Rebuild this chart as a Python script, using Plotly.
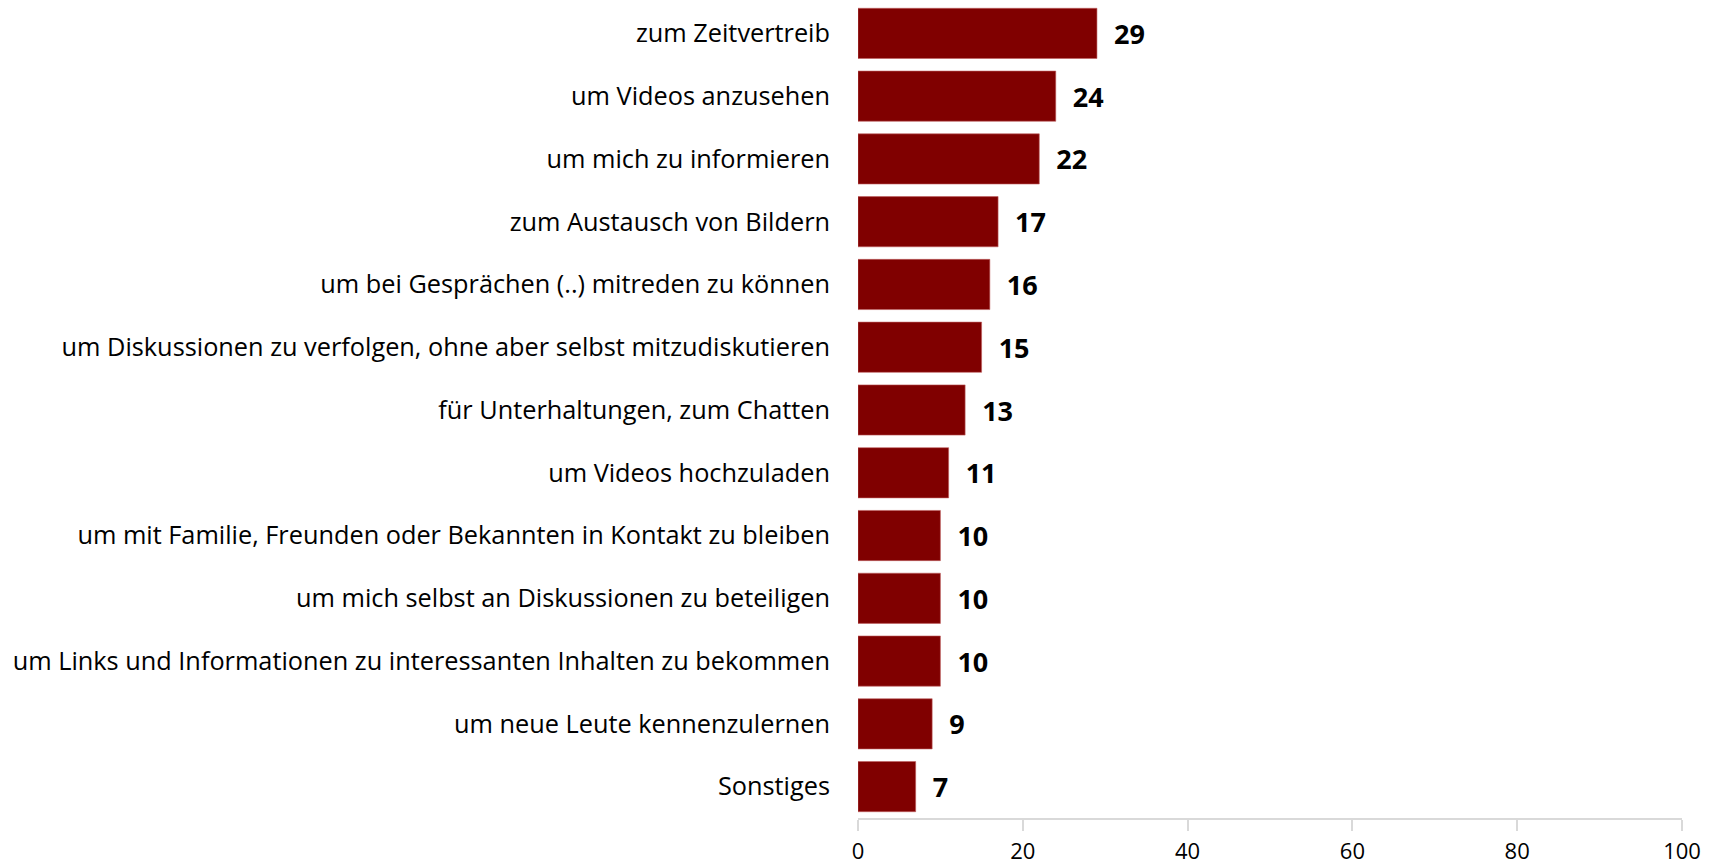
import plotly.graph_objects as go

categories = [
    "zum Zeitvertreib",
    "um Videos anzusehen",
    "um mich zu informieren",
    "zum Austausch von Bildern",
    "um bei Gesprächen (..) mitreden zu können",
    "um Diskussionen zu verfolgen, ohne aber selbst mitzudiskutieren",
    "für Unterhaltungen, zum Chatten",
    "um Videos hochzuladen",
    "um mit Familie, Freunden oder Bekannten in Kontakt zu bleiben",
    "um mich selbst an Diskussionen zu beteiligen",
    "um Links und Informationen zu interessanten Inhalten zu bekommen",
    "um neue Leute kennenzulernen",
    "Sonstiges",
]
values = [29, 24, 22, 17, 16, 15, 13, 11, 10, 10, 10, 9, 7]
x_ticks = [0, 20, 40, 60, 80, 100]

fig = go.Figure(
    go.Bar(
        y=categories,
        x=values,
        orientation="h",
        marker=dict(color="#800000", line=dict(color="#c06060", width=0.6)),
        text=[f"<b>\u00a0\u00a0{v}</b>" for v in values],
        textposition="outside",
        textfont=dict(family="Open Sans, sans-serif", size=27, color="#000000"),
        cliponaxis=False,
        hoverinfo="skip",
    )
)

fig.update_layout(
    width=1719,
    height=864,
    paper_bgcolor="white",
    plot_bgcolor="white",
    margin=dict(l=858, r=37, t=2, b=46),
    bargap=0.2,
    showlegend=False,
    font=dict(family="Open Sans, sans-serif", size=25.3, color="#000000"),
)
fig.update_yaxes(
    autorange="reversed",
    automargin=False,
    showgrid=False,
    showline=False,
    ticks="",
    ticklabelstandoff=27,
    tickfont=dict(size=25.3),
)
fig.update_xaxes(
    range=[0, 100],
    automargin=False,
    tickvals=x_ticks,
    showgrid=False,
    zeroline=False,
    showline=True,
    linecolor="#d9d9d9",
    linewidth=1.5,
    ticks="outside",
    ticklen=11,
    tickcolor="#d9d9d9",
    tickwidth=1.5,
    tickfont=dict(size=22),
    ticklabelstandoff=2,
)

fig.write_html(
    "out.html",
    config={"displayModeBar": False},
    post_script="document.body.style.margin='0';",
)
